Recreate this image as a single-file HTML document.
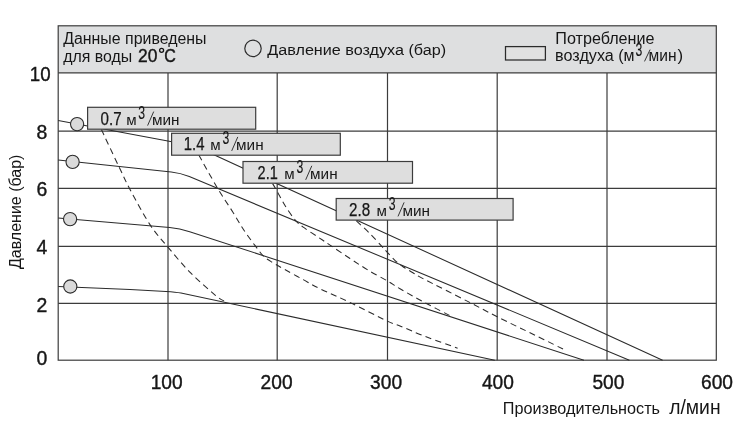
<!DOCTYPE html>
<html lang="ru"><head><meta charset="utf-8"><title>Chart</title>
<style>html,body{margin:0;padding:0;background:#fff}body{width:738px;height:425px;overflow:hidden}svg{display:block;will-change:transform}text{font-family:"Liberation Sans",sans-serif;fill:#161616}</style></head><body>
<svg width="738" height="425" viewBox="0 0 738 425">
<rect x="0" y="0" width="738" height="425" fill="#ffffff"/>
<rect x="58.2" y="25.8" width="658.1" height="47.1" fill="#dedfe0"/>
<g stroke="#3c3c3c" stroke-width="1.2" fill="none">
<rect x="58.2" y="25.8" width="658.1" height="334.4"/>
<line x1="58.2" y1="72.9" x2="716.3" y2="72.9"/>
<line x1="58.2" y1="131.1" x2="716.3" y2="131.1"/>
<line x1="58.2" y1="188.3" x2="716.3" y2="188.3"/>
<line x1="58.2" y1="246.4" x2="716.3" y2="246.4"/>
<line x1="58.2" y1="303.3" x2="716.3" y2="303.3"/>
<line x1="168.0" y1="72.9" x2="168.0" y2="360.2"/>
<line x1="277.2" y1="72.9" x2="277.2" y2="360.2"/>
<line x1="387.5" y1="72.9" x2="387.5" y2="360.2"/>
<line x1="497.2" y1="72.9" x2="497.2" y2="360.2"/>
<line x1="607.0" y1="72.9" x2="607.0" y2="360.2"/>
</g>
<g stroke="#2b2b2b" stroke-width="1.05" fill="none">
<path d="M58.2 120.6 L185.2 144.3 Q195.2 146.2 205.2 150.8 L662.6 360.2"/>
<path d="M58.2 160.0 L171.3 171.9 Q180.3 172.8 189.3 176.6 L629.4 360.2"/>
<path d="M58.2 217.9 L169.7 227.6 Q179.7 228.4 189.7 231.7 L583.9 360.2"/>
<path d="M58.2 286.5 L76 287.3 L130 289.5 L166 291.4 Q176 292.0 181 293.0 L494.8 360.2"/>
</g>
<g stroke="#2b2b2b" stroke-width="1.05" fill="none" stroke-dasharray="6.2 4.2">
<path d="M101.4 129.6 C102.5 131.8 104.7 136.6 107.7 143.0 C110.8 149.4 115.9 160.5 119.7 168.3 C123.5 176.1 125.2 180.5 130.3 190.0 C135.4 199.5 144.0 215.5 150.3 225.1 C156.6 234.7 161.6 239.7 168.3 247.6 C175.0 255.5 182.6 264.8 190.4 272.7 C198.2 280.6 209.8 290.6 215.4 295.3 C221.0 300.0 222.6 300.1 224.0 301.0"/>
<path d="M198.8 155.0 C201.9 160.6 212.1 179.1 217.6 188.3 C223.1 197.5 227.2 203.2 231.6 210.1 C236.0 217.0 239.6 223.7 243.8 230.0 C248.0 236.3 253.4 243.4 256.8 247.9 C260.2 252.4 261.2 254.2 264.1 256.8 C267.0 259.4 270.4 261.1 273.9 263.3 C277.4 265.5 280.4 267.1 285.3 269.8 C290.2 272.5 297.2 276.4 303.2 279.6 C309.1 282.9 313.1 285.5 321.0 289.3 C328.9 293.1 339.2 297.2 350.3 302.6 C361.4 308.0 379.6 317.5 387.9 321.4 C396.2 325.3 393.8 323.4 400.0 325.9 C406.2 328.4 415.4 332.7 425.0 336.4 C434.6 340.1 452.2 346.2 457.6 348.2"/>
<path d="M272.6 183.6 C273.4 184.9 275.1 187.7 277.2 191.4 C279.3 195.1 282.3 201.3 285.3 206.0 C288.3 210.7 292.0 216.3 295.0 219.8 C298.0 223.3 299.4 224.3 303.2 227.2 C307.0 230.0 313.2 233.8 317.8 236.9 C322.4 240.0 325.4 242.0 330.8 245.6 C336.2 249.2 343.8 254.4 350.0 258.5 C356.2 262.6 361.6 266.2 367.9 270.0 C374.1 273.8 382.1 277.9 387.5 281.0 C392.9 284.1 393.8 285.2 400.0 288.8 C406.2 292.4 416.2 298.0 425.0 302.7 C433.8 307.4 448.0 314.6 452.6 317.0"/>
<path d="M356.4 220.9 C358.6 222.9 365.2 228.9 369.4 233.1 C373.6 237.3 378.6 242.8 381.6 246.1 C384.6 249.4 385.3 250.2 387.6 252.7 C389.9 255.1 392.9 258.5 395.4 260.8 C397.9 263.1 399.7 264.5 402.7 266.5 C405.7 268.5 409.6 270.8 413.3 273.0 C417.0 275.2 415.6 274.8 424.7 279.5 C433.8 284.2 455.6 295.2 467.7 301.4 C479.8 307.6 485.9 311.1 497.2 316.8 C508.5 322.5 523.7 329.6 535.3 335.3 C546.9 341.0 561.5 348.3 566.7 350.9"/>
</g>
<g stroke="#2b2b2b" stroke-width="1.1" fill="#dadada">
<circle cx="77.1" cy="124.1" r="6.6"/>
<circle cx="72.6" cy="161.9" r="6.6"/>
<circle cx="70.1" cy="219.1" r="6.6"/>
<circle cx="70.3" cy="286.5" r="6.6"/>
</g>
<rect x="87.6" y="107.3" width="168.1" height="21.9" fill="#dedede" stroke="#3c3c3c" stroke-width="1.2"/>
<rect x="171.6" y="133.3" width="168.7" height="21.9" fill="#dedede" stroke="#3c3c3c" stroke-width="1.2"/>
<rect x="243.0" y="161.5" width="169.5" height="21.7" fill="#dedede" stroke="#3c3c3c" stroke-width="1.2"/>
<rect x="336.2" y="198.5" width="176.9" height="21.6" fill="#dedede" stroke="#3c3c3c" stroke-width="1.2"/>
<text x="100.6" y="124.7" font-size="17.5" text-anchor="start" textLength="21.0" lengthAdjust="spacingAndGlyphs" stroke="#161616" stroke-width="0.25">0.7</text>
<text x="126.2" y="124.7" font-size="15.0" text-anchor="start" textLength="10.4" lengthAdjust="spacingAndGlyphs">м</text><text x="138.3" y="118.8" font-size="19.0" text-anchor="start" textLength="6.8" lengthAdjust="spacingAndGlyphs" stroke="#161616" stroke-width="0.15">3</text><line x1="147.6" y1="125.6" x2="153.7" y2="111.6" stroke="#161616" stroke-width="0.85"/><text x="152.0" y="124.7" font-size="15.0" text-anchor="start" textLength="27.5" lengthAdjust="spacingAndGlyphs">мин</text>
<text x="183.8" y="150.0" font-size="17.5" text-anchor="start" textLength="20.7" lengthAdjust="spacingAndGlyphs" stroke="#161616" stroke-width="0.25">1.4</text>
<text x="210.3" y="150.0" font-size="15.0" text-anchor="start" textLength="10.4" lengthAdjust="spacingAndGlyphs">м</text><text x="222.4" y="144.1" font-size="19.0" text-anchor="start" textLength="6.8" lengthAdjust="spacingAndGlyphs" stroke="#161616" stroke-width="0.15">3</text><line x1="231.7" y1="150.9" x2="237.8" y2="136.9" stroke="#161616" stroke-width="0.85"/><text x="236.1" y="150.0" font-size="15.0" text-anchor="start" textLength="27.5" lengthAdjust="spacingAndGlyphs">мин</text>
<text x="257.6" y="178.9" font-size="17.5" text-anchor="start" textLength="20.2" lengthAdjust="spacingAndGlyphs" stroke="#161616" stroke-width="0.25">2.1</text>
<text x="284.3" y="178.9" font-size="15.0" text-anchor="start" textLength="10.4" lengthAdjust="spacingAndGlyphs">м</text><text x="296.4" y="173.0" font-size="19.0" text-anchor="start" textLength="6.8" lengthAdjust="spacingAndGlyphs" stroke="#161616" stroke-width="0.15">3</text><line x1="305.7" y1="179.8" x2="311.8" y2="165.8" stroke="#161616" stroke-width="0.85"/><text x="310.1" y="178.9" font-size="15.0" text-anchor="start" textLength="27.5" lengthAdjust="spacingAndGlyphs">мин</text>
<text x="349.0" y="215.5" font-size="17.5" text-anchor="start" textLength="21.1" lengthAdjust="spacingAndGlyphs" stroke="#161616" stroke-width="0.25">2.8</text>
<text x="376.6" y="215.5" font-size="15.0" text-anchor="start" textLength="10.4" lengthAdjust="spacingAndGlyphs">м</text><text x="388.7" y="209.6" font-size="19.0" text-anchor="start" textLength="6.8" lengthAdjust="spacingAndGlyphs" stroke="#161616" stroke-width="0.15">3</text><line x1="398.0" y1="216.4" x2="404.1" y2="202.4" stroke="#161616" stroke-width="0.85"/><text x="402.4" y="215.5" font-size="15.0" text-anchor="start" textLength="27.5" lengthAdjust="spacingAndGlyphs">мин</text>
<text x="63.2" y="44.2" font-size="16.0" text-anchor="start" textLength="143.3" lengthAdjust="spacingAndGlyphs">Данные приведены</text>
<text x="63.2" y="61.8" font-size="16.0" text-anchor="start" textLength="69.0" lengthAdjust="spacingAndGlyphs">для воды</text>
<text x="138.0" y="62.1" font-size="19.0" text-anchor="start" textLength="19.4" lengthAdjust="spacingAndGlyphs" stroke="#161616" stroke-width="0.40">20</text>
<circle cx="161.6" cy="50.3" r="2.0" fill="none" stroke="#161616" stroke-width="1.3"/>
<text x="164.2" y="62.1" font-size="19.0" text-anchor="start" textLength="11.6" lengthAdjust="spacingAndGlyphs" stroke="#161616" stroke-width="0.40">C</text>
<circle cx="253.0" cy="48.4" r="8.2" fill="none" stroke="#2b2b2b" stroke-width="1.2"/>
<text x="267.3" y="55.2" font-size="15.5" text-anchor="start" textLength="178.8" lengthAdjust="spacingAndGlyphs">Давление воздуха (бар)</text>
<rect x="505.5" y="46.6" width="39.9" height="13.4" fill="#e1e1e1" stroke="#2b2b2b" stroke-width="1.25"/>
<text x="555.3" y="43.8" font-size="16.0" text-anchor="start" textLength="99.2" lengthAdjust="spacingAndGlyphs">Потребление</text>
<text x="555.1" y="60.8" font-size="15.6" text-anchor="start" textLength="68.6" lengthAdjust="spacingAndGlyphs">воздуха (</text>
<text x="623.5" y="60.8" font-size="15.6" text-anchor="start" textLength="11.0" lengthAdjust="spacingAndGlyphs">м</text><text x="635.5" y="55.9" font-size="19.0" text-anchor="start" textLength="6.8" lengthAdjust="spacingAndGlyphs" stroke="#161616" stroke-width="0.15">3</text><line x1="644.5" y1="61.4" x2="650.1" y2="49.6" stroke="#161616" stroke-width="0.85"/><text x="648.6" y="60.8" font-size="15.6" text-anchor="start" textLength="28.0" lengthAdjust="spacingAndGlyphs">мин</text>
<text x="677.4" y="60.8" font-size="15.8" text-anchor="start" textLength="5.6" lengthAdjust="spacingAndGlyphs">)</text>
<text x="166.7" y="389.4" font-size="20.3" text-anchor="middle" textLength="32.0" lengthAdjust="spacingAndGlyphs" stroke="#161616" stroke-width="0.40">100</text>
<text x="276.6" y="389.4" font-size="20.3" text-anchor="middle" textLength="32.0" lengthAdjust="spacingAndGlyphs" stroke="#161616" stroke-width="0.40">200</text>
<text x="386.1" y="389.4" font-size="20.3" text-anchor="middle" textLength="32.0" lengthAdjust="spacingAndGlyphs" stroke="#161616" stroke-width="0.40">300</text>
<text x="497.9" y="389.4" font-size="20.3" text-anchor="middle" textLength="32.0" lengthAdjust="spacingAndGlyphs" stroke="#161616" stroke-width="0.40">400</text>
<text x="608.4" y="389.4" font-size="20.3" text-anchor="middle" textLength="32.0" lengthAdjust="spacingAndGlyphs" stroke="#161616" stroke-width="0.40">500</text>
<text x="717.0" y="389.4" font-size="20.3" text-anchor="middle" textLength="32.0" lengthAdjust="spacingAndGlyphs" stroke="#161616" stroke-width="0.40">600</text>
<text x="36.6" y="138.5" font-size="20.3" text-anchor="start" textLength="10.8" lengthAdjust="spacingAndGlyphs" stroke="#161616" stroke-width="0.40">8</text>
<text x="36.6" y="195.6" font-size="20.3" text-anchor="start" textLength="10.8" lengthAdjust="spacingAndGlyphs" stroke="#161616" stroke-width="0.40">6</text>
<text x="36.6" y="253.8" font-size="20.3" text-anchor="start" textLength="10.8" lengthAdjust="spacingAndGlyphs" stroke="#161616" stroke-width="0.40">4</text>
<text x="36.6" y="311.9" font-size="20.3" text-anchor="start" textLength="10.8" lengthAdjust="spacingAndGlyphs" stroke="#161616" stroke-width="0.40">2</text>
<text x="36.6" y="365.3" font-size="20.3" text-anchor="start" textLength="10.8" lengthAdjust="spacingAndGlyphs" stroke="#161616" stroke-width="0.40">0</text>
<text x="29.8" y="80.6" font-size="20.3" text-anchor="start" textLength="20.8" lengthAdjust="spacingAndGlyphs" stroke="#161616" stroke-width="0.40">10</text>
<text x="502.8" y="414.2" font-size="16.0" text-anchor="start" textLength="157.2" lengthAdjust="spacingAndGlyphs">Производительность</text>
<text x="669.2" y="414.2" font-size="19.3" text-anchor="start" textLength="51.4" lengthAdjust="spacingAndGlyphs">л/мин</text>
<text transform="translate(20.7 269.0) rotate(-90)" font-size="15.6" textLength="114.4" lengthAdjust="spacingAndGlyphs">Давление (бар)</text>
</svg></body></html>
